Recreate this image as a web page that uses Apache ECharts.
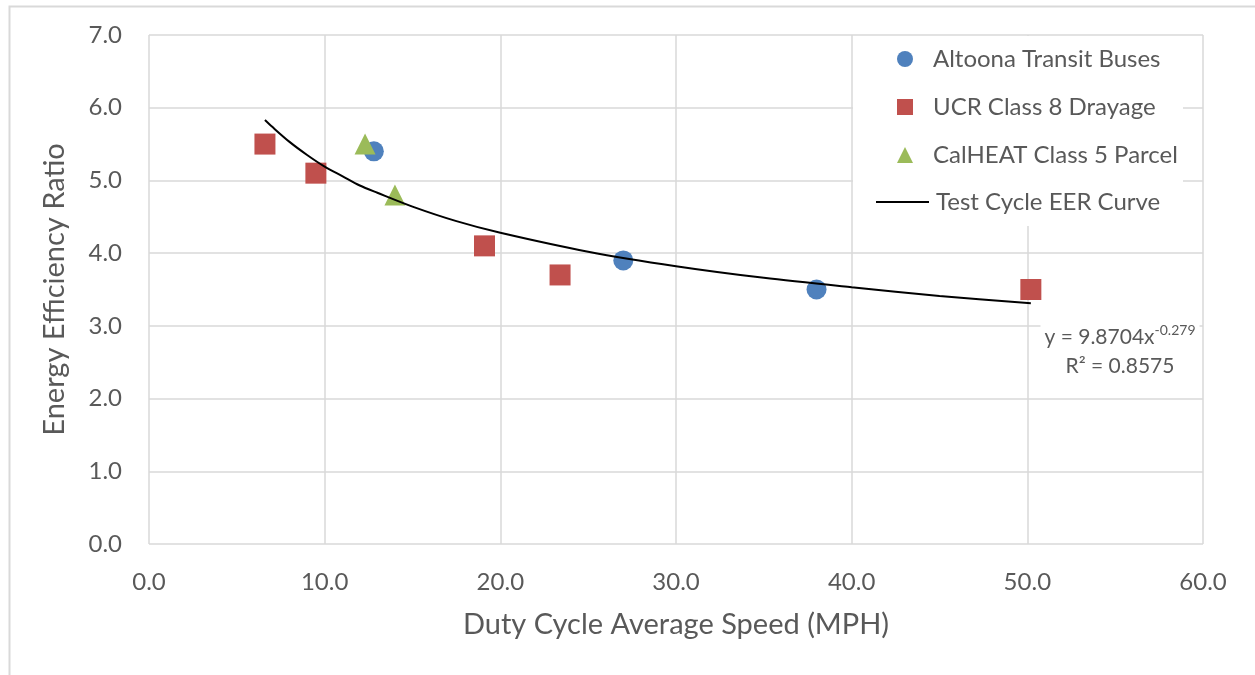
<!DOCTYPE html>
<html>
<head>
<meta charset="utf-8">
<script src="https://cdn.jsdelivr.net/npm/echarts@6/dist/echarts.min.js"></script>
<style>
html,body{margin:0;padding:0;background:#fff;}
#c{width:1255px;height:675px;}
</style>
</head>
<body>
<div id="c"></div>
<script>
// ---- data ----
const altoona = [[12.8, 5.4], [27.0, 3.9], [38.0, 3.5]];
const ucr = [[6.6, 5.5], [9.5, 5.1], [19.1, 4.1], [23.4, 3.7], [50.2, 3.5]];
const calheat = [[12.3, 5.5], [14.0, 4.8]];
// points
const curveX = [6.6, 7, 8, 9, 10, 11, 12, 13, 15, 17.5, 20, 25, 30, 35, 40, 45, 50.2];
const curveY = [5.83, 5.74, 5.53, 5.35, 5.19, 5.06, 4.93, 4.83, 4.64, 4.44, 4.28, 4.02, 3.82, 3.66, 3.53, 3.41, 3.31];
const seriesNames = ['Altoona Transit Buses', 'UCR Class 8 Drayage', 'CalHEAT Class 5 Parcel', 'Test Cycle EER Curve'];
const xTicks = {min: 0, max: 60, interval: 10};
const yTicks = {min: 0, max: 7, interval: 1};

const FONT = 'Lato, "Open Sans", sans-serif';
const TXT = '#595959';
const GRID = '#d9d9d9';

const chart = echarts.init(document.getElementById('c'), null, {renderer: 'canvas'});

function legendFor(name, icon, centerY, iconW, iconH, left, padLeft) {
  return {
    data: [{name: name, icon: icon}],
    left: left, top: centerY - 14,
    itemWidth: iconW, itemHeight: iconH,
    padding: 0, z: 20,
    selectedMode: false,
    textStyle: {fontFamily: FONT, fontSize: 24, color: TXT, lineHeight: 28, padding: [0, 0, 0, padLeft]}
  };
}

const option = {
  backgroundColor: '#fff',
  animation: false,
  grid: {left: 149, right: 52, top: 35, bottom: 131, containLabel: false},
  xAxis: {
    type: 'value', min: xTicks.min, max: xTicks.max, interval: xTicks.interval,
    name: 'Duty Cycle Average Speed (MPH)', nameLocation: 'middle', nameGap: 66,
    nameTextStyle: {fontFamily: FONT, fontSize: 29, color: TXT},
    axisLine: {show: false}, axisTick: {show: false},
    axisLabel: {fontFamily: FONT, fontSize: 24, color: TXT, margin: 26, formatter: v => v.toFixed(1)},
    splitLine: {show: true, lineStyle: {color: GRID, width: 1.5}}
  },
  yAxis: {
    type: 'value', min: yTicks.min, max: yTicks.max, interval: yTicks.interval,
    name: 'Energy Efficiency Ratio', nameLocation: 'middle', nameGap: 80,
    nameTextStyle: {fontFamily: FONT, fontSize: 29, color: TXT},
    axisLine: {show: false}, axisTick: {show: false},
    axisLabel: {fontFamily: FONT, fontSize: 24, color: TXT, margin: 27, formatter: v => v.toFixed(1)},
    splitLine: {show: true, lineStyle: {color: GRID, width: 1.5}}
  },
  legend: [
    legendFor(seriesNames[0], 'circle', 59, 16, 16, 897, 15),
    legendFor(seriesNames[1], 'rect', 107, 16, 16, 897, 15),
    legendFor(seriesNames[2], 'triangle', 155, 16, 16, 897, 15),
    legendFor(seriesNames[3], 'path://M0,0L53,0L53,2L0,2Z', 202, 53, 2, 876, 2)
  ],
  graphic: [
    {type: 'rect', left: 853, top: 36, shape: {width: 330, height: 190}, style: {fill: '#fff'}, z: 1, silent: true},
    {type: 'rect', left: 7, top: 4, shape: {width: 1260, height: 680}, style: {fill: 'none', stroke: GRID, lineWidth: 2}, z: 0, silent: true},
    {
      type: 'text', x: 1120, y: 321, z: 5,
      style: {
        text: '{a|y = 9.8704x}{s|-0.279}\n{a|R² = 0.8575}',
        align: 'center', verticalAlign: 'top',
        backgroundColor: '#fff', padding: [2, 4, 2, 4],
        rich: {
          a: {fontFamily: FONT, fontSize: 21, fill: TXT, color: TXT, lineHeight: 29},
          s: {fontFamily: FONT, fontSize: 14, fill: TXT, color: TXT, lineHeight: 29, verticalAlign: 'top', padding: [0, 0, 8, 0]}
        }
      }
    }
  ],
  series: [
    {name: seriesNames[0], type: 'scatter', data: altoona, symbol: 'circle', symbolSize: 20, itemStyle: {color: '#4f81bd', opacity: 1}, z: 10},
    {name: seriesNames[1], type: 'scatter', data: ucr, symbol: 'rect', symbolSize: 21, itemStyle: {color: '#c0504d', opacity: 1}, z: 10},
    {name: seriesNames[2], type: 'scatter', data: calheat, symbol: 'triangle', symbolSize: 21, itemStyle: {color: '#9bbb59', opacity: 1}, z: 10},
    {name: seriesNames[3], type: 'line', data: curveX.map((x, i) => [x, curveY[i]]), smooth: 0.3, symbol: 'none', showSymbol: false,
     lineStyle: {color: '#000', width: 2}, itemStyle: {color: '#000'}, z: 11}
  ]
};
chart.setOption(option);
</script>
</body>
</html>
